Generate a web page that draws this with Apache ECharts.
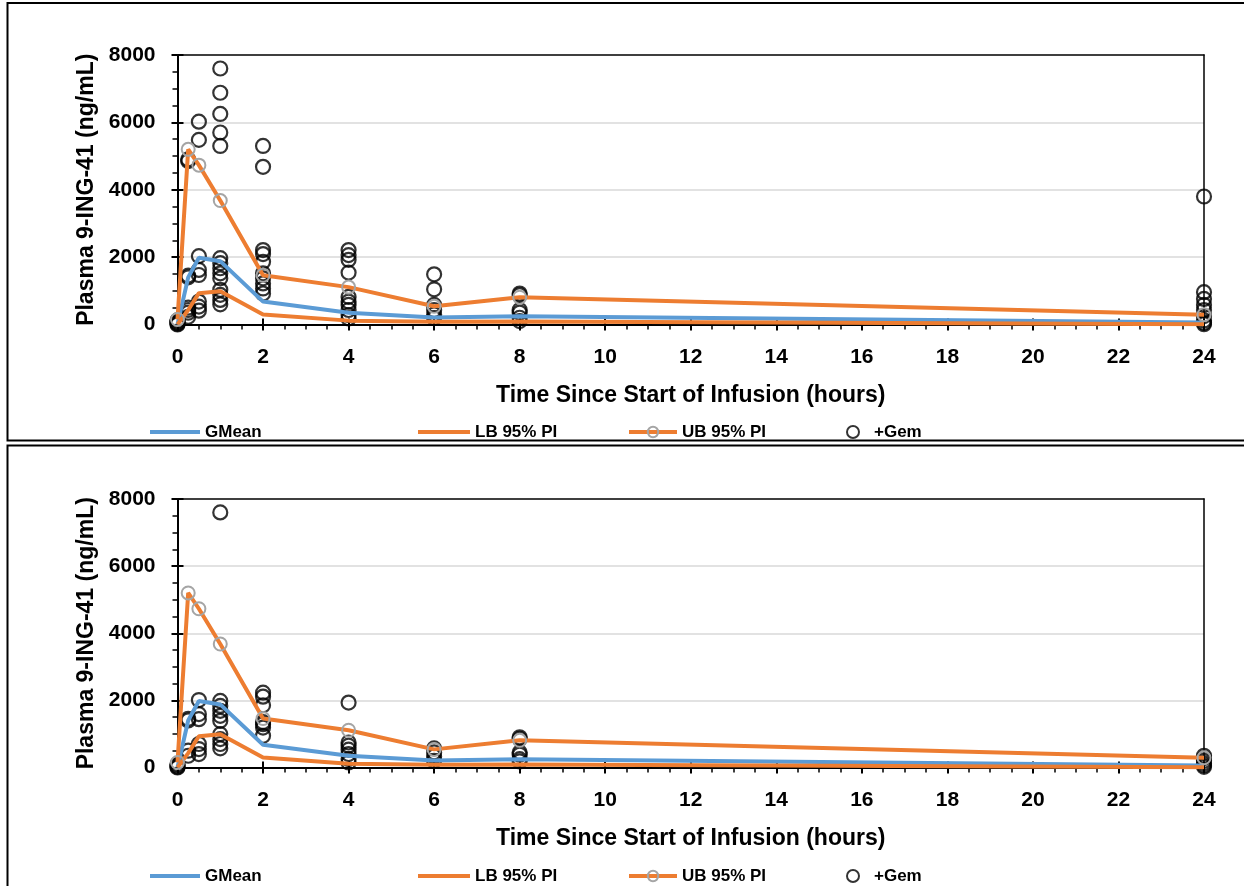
<!DOCTYPE html>
<html>
<head>
<meta charset="utf-8">
<title>Plasma 9-ING-41 concentration vs time</title>
<script src="https://cdn.jsdelivr.net/npm/echarts@6/dist/echarts.min.js"></script>
<style>
  html, body { margin: 0; padding: 0; background: #fff; }
  #chart { width: 1244px; height: 886px; }
</style>
</head>
<body>
<div id="chart"></div>
<script>
// Nominal sampling times (hours since start of infusion)
const times = [0, 0.25, 0.5, 1, 2, 4, 6, 8, 24];

// Model summary curves (ng/mL) at each sampling time
const gmean = [0, 1400, 1980, 1880, 680, 350, 210, 245, 60];
const lb95 = [0, 430, 930, 990, 300, 115, 80, 90, 10];
const ub95 = [150, 5200, 4730, 3680, 1460, 1110, 540, 810, 290];

// Observed +Gem concentrations (ng/mL), one list per sampling time – upper panel
const gemUpper = [
  [0, 20, 50, 80, 120],
  [4900, 4850, 1450, 1400, 500, 430, 350, 230],
  [6020, 5480, 2030, 1620, 1470, 680, 530, 410],
  [7600, 6880, 6250, 5700, 5300, 1970, 1820, 1670, 1520, 1370, 1030, 880, 730, 600],
  [5300, 4680, 2210, 2090, 1860, 1520, 1370, 1220, 1070, 920],
  [2210, 2060, 1920, 1540, 820, 680, 580, 430, 280, 180],
  [1490, 1045, 580, 430, 300, 190],
  [920, 870, 430, 350, 200, 100],
  [3800, 960, 760, 580, 430, 250, 120, 50, 10]
];

// Observed +Gem concentrations (ng/mL), one list per sampling time – lower panel
const gemLower = [
  [0, 20, 60, 100],
  [1450, 1400, 500, 350],
  [2010, 1590, 1440, 700, 550, 400],
  [7600, 1985, 1835, 1690, 1540, 1390, 995, 845, 700, 570],
  [2230, 2110, 1855, 1350, 1290, 1190, 945],
  [1935, 745, 650, 530, 400, 250, 150],
  [570, 450, 330, 200],
  [900, 850, 450, 380, 250, 180],
  [350, 280, 200, 130, 70, 20]
];

const xTitle = 'Time Since Start of Infusion (hours)';
const yTitle = 'Plasma 9-ING-41 (ng/mL)';

const FONT = '"Liberation Sans", Arial, sans-serif';
const BLUE = '#5B9BD5';
const ORANGE = '#ED7D31';
const GREY = '#A5A5A5';

const pairs = (vals) => times.map((t, i) => [t, vals[i]]);
const scatterPairs = (lists) => {
  const out = [];
  lists.forEach((list, i) => list.forEach(v => out.push([times[i], v])));
  return out;
};

const panels = [
  { top: 55, height: 269.5, legendTop: 417, gem: gemUpper },
  { top: 499, height: 268.5, legendTop: 861, gem: gemLower }
];

const grids = [], xAxes = [], yAxes = [], series = [], legends = [];

panels.forEach((p, gi) => {
  grids.push({ left: 177.5, top: p.top, width: 1026.5, height: p.height, containLabel: false });

  // bottom axis with labels, outside ticks and minor ticks
  xAxes.push({
    gridIndex: gi, type: 'value', min: 0, max: 24, interval: 2, position: 'bottom',
    axisLine: { show: true, onZero: false, lineStyle: { color: '#000', width: 2 } },
    axisTick: { show: true, inside: false, length: 6, lineStyle: { color: '#000', width: 2 } },
    minorTick: { show: true, splitNumber: 4, length: 5, lineStyle: { color: '#000', width: 1.5 } },
    splitLine: { show: false },
    axisLabel: { fontSize: 21, fontWeight: 'bold', color: '#000', margin: 22, fontFamily: FONT },
    name: xTitle, nameLocation: 'middle', nameGap: 60,
    nameTextStyle: { fontSize: 23, fontWeight: 'bold', color: '#000', fontFamily: FONT }
  });
  // inner half of the major ticks (ticks cross the axis)
  xAxes.push({
    gridIndex: gi, type: 'value', min: 0, max: 24, interval: 2, position: 'bottom',
    axisLine: { show: false, onZero: false },
    axisTick: { show: true, inside: true, length: 6, lineStyle: { color: '#000', width: 2 } },
    axisLabel: { show: false }, splitLine: { show: false }
  });
  // top frame line
  xAxes.push({
    gridIndex: gi, type: 'value', min: 0, max: 24, position: 'top',
    axisLine: { show: true, onZero: false, lineStyle: { color: '#000', width: 1.5 } },
    axisTick: { show: false }, axisLabel: { show: false }, splitLine: { show: false }
  });

  yAxes.push({
    gridIndex: gi, type: 'value', min: 0, max: 8000, interval: 2000, position: 'left',
    axisLine: { show: true, onZero: false, lineStyle: { color: '#000', width: 2 } },
    axisTick: { show: true, inside: false, length: 6, lineStyle: { color: '#000', width: 2 } },
    minorTick: { show: true, splitNumber: 4, length: 5, lineStyle: { color: '#000', width: 1.5 } },
    splitLine: { show: true, showMinLine: false, showMaxLine: false, lineStyle: { color: '#D9D9D9', width: 1.5 } },
    axisLabel: { fontSize: 21, fontWeight: 'bold', color: '#000', margin: 22, fontFamily: FONT,
                 formatter: (v) => String(v) },
    name: yTitle, nameLocation: 'middle', nameGap: 73, nameRotate: 90,
    nameTextStyle: { fontSize: 23, fontWeight: 'bold', color: '#000', fontFamily: FONT }
  });
  yAxes.push({
    gridIndex: gi, type: 'value', min: 0, max: 8000, interval: 2000, position: 'left',
    axisLine: { show: false, onZero: false },
    axisTick: { show: true, inside: true, length: 6, lineStyle: { color: '#000', width: 2 } },
    axisLabel: { show: false }, splitLine: { show: false }
  });
  // right frame line
  yAxes.push({
    gridIndex: gi, type: 'value', min: 0, max: 8000, position: 'right',
    axisLine: { show: true, onZero: false, lineStyle: { color: '#000', width: 1.5 } },
    axisTick: { show: false }, axisLabel: { show: false }, splitLine: { show: false }
  });

  const ax = gi * 3;
  series.push({
    name: 'GMean', type: 'line', xAxisIndex: ax, yAxisIndex: ax,
    data: pairs(gmean), symbol: 'none', silent: true,
    lineStyle: { color: BLUE, width: 4 }, itemStyle: { color: BLUE }
  });
  series.push({
    name: 'LB 95% PI', type: 'line', xAxisIndex: ax, yAxisIndex: ax,
    data: pairs(lb95), symbol: 'none', silent: true,
    lineStyle: { color: ORANGE, width: 4 }, itemStyle: { color: ORANGE }
  });
  series.push({
    name: 'UB 95% PI', type: 'line', xAxisIndex: ax, yAxisIndex: ax,
    data: pairs(ub95), symbol: 'circle', symbolSize: 13, showSymbol: true, silent: true,
    lineStyle: { color: ORANGE, width: 4 },
    itemStyle: { color: 'rgba(255,255,255,0)', borderColor: GREY, borderWidth: 2 }
  });
  series.push({
    name: '+Gem', type: 'scatter', xAxisIndex: ax, yAxisIndex: ax,
    data: scatterPairs(p.gem), symbol: 'circle', symbolSize: 14, silent: true,
    itemStyle: { color: 'rgba(255,255,255,0)', borderColor: '#000', borderWidth: 2.2 }
  });

  const legendBase = {
    top: p.legendTop, selectedMode: false, itemHeight: 14,
    textStyle: { fontSize: 17, fontWeight: 'bold', color: '#000', fontFamily: FONT, lineHeight: 20 }
  };
  legends.push(Object.assign({}, legendBase, {
    data: [{ name: 'GMean', icon: 'rect' }], left: 145, itemWidth: 50, itemHeight: 4
  }));
  legends.push(Object.assign({}, legendBase, {
    data: [{ name: 'LB 95% PI', icon: 'rect' }], left: 413, itemWidth: 52, itemHeight: 4
  }));
  legends.push(Object.assign({}, legendBase, {
    data: ['UB 95% PI'], left: 622, itemWidth: 48, itemHeight: 13,
    lineStyle: { width: 4 }
  }));
  legends.push(Object.assign({}, legendBase, {
    data: ['+Gem'], left: 841, itemWidth: 32, itemHeight: 12
  }));
});

const chart = echarts.init(document.getElementById('chart'), null, { renderer: 'canvas' });
chart.setOption({
  backgroundColor: '#fff',
  animation: false,
  textStyle: { fontFamily: FONT },
  grid: grids,
  xAxis: xAxes,
  yAxis: yAxes,
  legend: legends,
  graphic: [
    { type: 'rect', shape: { x: 7.5, y: 3, width: 1250, height: 437.5 }, style: { fill: 'none', stroke: '#000', lineWidth: 2 }, silent: true },
    { type: 'rect', shape: { x: 7.5, y: 445.5, width: 1250, height: 460 }, style: { fill: 'none', stroke: '#000', lineWidth: 2 }, silent: true }
  ],
  series: series
});
</script>
</body>
</html>
